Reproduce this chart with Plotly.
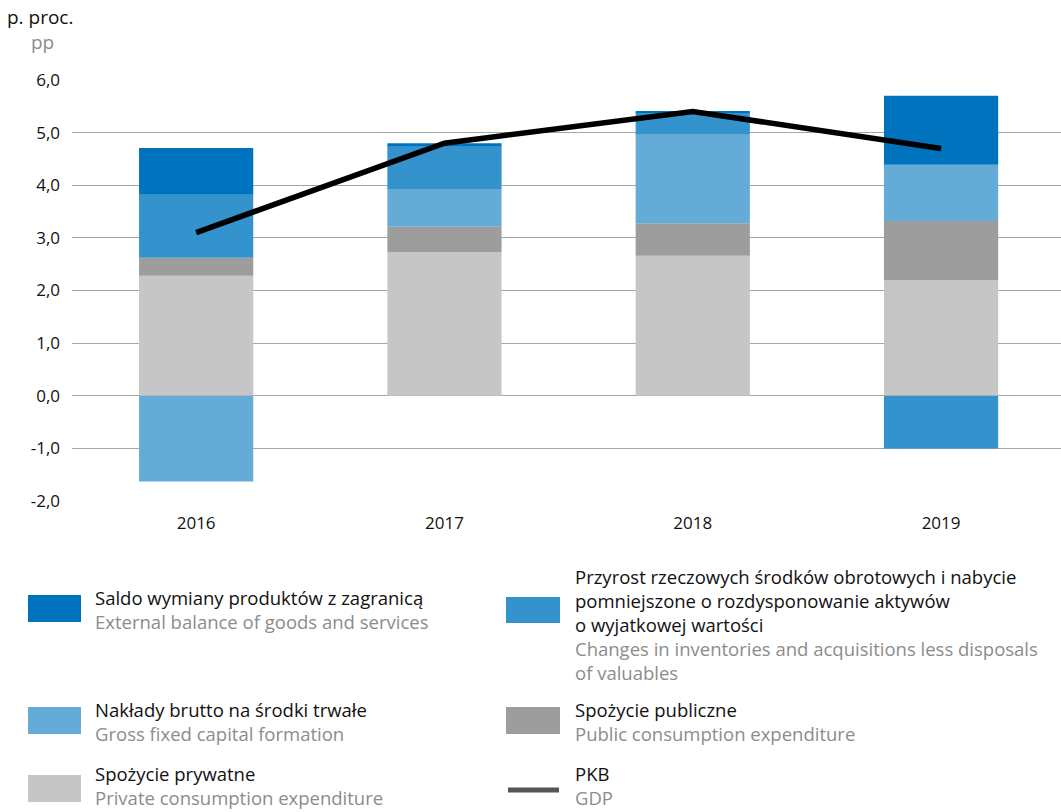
import plotly.graph_objects as go

years = ["2016", "2017", "2018", "2019"]
private_cons = [2.28, 2.73, 2.66, 2.20]
public_cons = [0.34, 0.48, 0.62, 1.12]
gfcf = [-1.63, 0.72, 1.68, 1.07]
inventories = [1.20, 0.80, 0.43, -1.00]
external = [0.89, 0.07, 0.02, 1.31]
gdp = [3.1, 4.8, 5.4, 4.7]

tick_vals = [-2, -1, 0, 1, 2, 3, 4, 5, 6]
tick_text = ["-2,0", "-1,0", "0,0", "1,0", "2,0", "3,0", "4,0", "5,0", "6,0"]

C_EXT = "#0073bf"
C_INV = "#3492cc"
C_GFCF = "#65abd8"
C_PUB = "#9d9d9d"
C_PRIV = "#c6c6c6"
C_GDP = "#000000"
GR = "#8c8c8c"

FONT = "Open Sans"
W, H = 1061, 812
L, R, T, B = 72, 0, 80, 311
PW = W - L - R
PH = H - T - B

def px(x):
    return (x - L) / PW

def py(y):
    return (H - B - y) / PH

fig = go.Figure()
series = [
    ("Spożycie prywatne", private_cons, C_PRIV),
    ("Spożycie publiczne", public_cons, C_PUB),
    ("Nakłady brutto na środki trwałe", gfcf, C_GFCF),
    ("Przyrost rzeczowych środków obrotowych", inventories, C_INV),
    ("Saldo wymiany produktów z zagranicą", external, C_EXT),
]
for name, vals, col in series:
    fig.add_trace(go.Bar(x=years, y=vals, name=name, marker=dict(color=col, line=dict(width=0)),
                         showlegend=False))
fig.add_trace(go.Scatter(x=years, y=gdp, mode="lines", name="PKB",
                         line=dict(color=C_GDP, width=5.5), showlegend=False))

fig.update_layout(
    width=W, height=H,
    margin=dict(l=L, r=R, t=T, b=B),
    barmode="relative",
    bargap=0.54,
    plot_bgcolor="white", paper_bgcolor="white",
    font=dict(family=FONT, size=17, color="#111"),
    xaxis=dict(range=[-0.5, 3.483], showgrid=False, showline=False, ticks="",
               ticklabelstandoff=10, tickfont=dict(size=17, color="#111")),
    yaxis=dict(range=[-2, 6], tickvals=tick_vals, ticktext=tick_text, showgrid=True,
               gridcolor="#a6a6a6", gridwidth=1.2, zeroline=True, zerolinecolor="#a6a6a6",
               zerolinewidth=1.2, showline=False, ticks="", ticklabelstandoff=11,
               tickfont=dict(size=17, color="#111")),
)

ann = []
def text(x, y, s, color="#111", size=18.5):
    ann.append(dict(xref="paper", yref="paper", x=px(x), y=py(y), text=s, showarrow=False,
                    xanchor="left", yanchor="middle", align="left",
                    font=dict(family=FONT, size=size, color=color)))

def block(x, y, pl_lines, en_lines):
    s = "<br>".join(pl_lines + ["<span style='color:%s'>%s</span>" % (GR, e) for e in en_lines])
    text(x, y, s)

text(5, 17, "p. proc.", size=19)
text(29, 42, "pp", color=GR, size=19)

shapes = []
def box(x0, y0, x1, y1, col):
    shapes.append(dict(type="rect", xref="paper", yref="paper", x0=px(x0), x1=px(x1),
                       y0=py(y1), y1=py(y0), fillcolor=col, line=dict(width=0)))

# left column
box(28, 595, 81, 622, C_EXT)
block(93, 609, ["Saldo wymiany produktów z zagranicą"], ["External balance of goods and services"])
box(28, 707, 81, 734, C_GFCF)
block(93, 721, ["Nakłady brutto na środki trwałe"], ["Gross fixed capital formation"])
box(28, 775, 81, 802, C_PRIV)
block(93, 785, ["Spożycie prywatne"], ["Private consumption expenditure"])
# right column
box(506, 597, 560, 623, C_INV)
block(573, 624.5,
      ["Przyrost rzeczowych środków obrotowych i nabycie",
       "pomniejszone o rozdysponowanie aktywów",
       "o wyjatkowej wartości"],
      ["Changes in inventories and acquisitions less disposals", "of valuables"])
box(506, 707, 560, 734, C_PUB)
block(573, 721, ["Spożycie publiczne"], ["Public consumption expenditure"])
shapes.append(dict(type="line", xref="paper", yref="paper", x0=px(508), x1=px(559),
                   y0=py(790), y1=py(790), line=dict(color="#555555", width=5)))
block(573, 785, ["PKB"], ["GDP"])

fig.update_layout(annotations=ann, shapes=shapes)
fig.write_html("out.html", config={"displayModeBar": False},
               post_script="document.body.style.margin='0';document.body.style.overflow='hidden';")
